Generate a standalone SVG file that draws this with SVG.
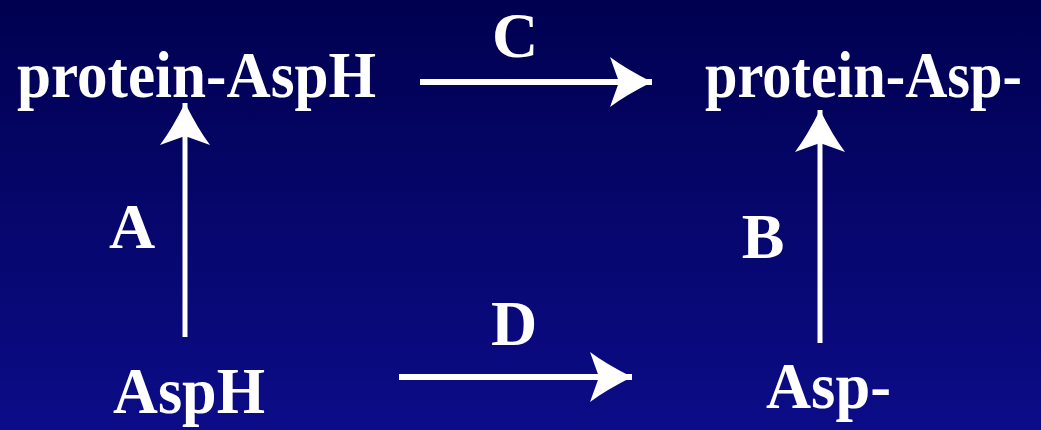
<svg xmlns="http://www.w3.org/2000/svg" width="1041" height="430" viewBox="0 0 1041 430">
  <defs>
    <linearGradient id="bg" x1="0" y1="0" x2="0" y2="1">
      <stop offset="0" stop-color="#000050"/>
      <stop offset="1" stop-color="#0c0c88"/>
    </linearGradient>
    <!-- stealth-style arrowhead, tip at refX -->
    <marker id="head" markerUnits="userSpaceOnUse" viewBox="0 -26 44 52" markerWidth="44" markerHeight="52" refX="42" refY="0" orient="auto">
      <path d="M0,-25 Q16,-13 42,0 Q16,13 0,25 L9,0 Z" fill="#ffffff"/>
    </marker>
    <style>
      .t { font-family: "Liberation Serif", "Times New Roman", serif; font-weight: bold; font-size: 66px; fill: #ffffff; }
      .lbl { text-anchor: middle; font-size: 64px; }
      .conn line { stroke: #ffffff; fill: none; marker-end: url(#head); }
    </style>
  </defs>

  <rect x="0" y="0" width="1041" height="430" fill="url(#bg)"/>

  <g id="node-protein-AspH">
    <text class="t" x="17" y="97" textLength="359" lengthAdjust="spacingAndGlyphs">protein-AspH</text>
  </g>
  <g id="node-protein-Asp">
    <text class="t" x="705" y="97" textLength="317" lengthAdjust="spacingAndGlyphs">protein-Asp-</text>
  </g>
  <g id="node-AspH">
    <text class="t" x="113" y="413" textLength="152" lengthAdjust="spacingAndGlyphs">AspH</text>
  </g>
  <g id="node-Asp">
    <text class="t" x="766" y="408" textLength="125" lengthAdjust="spacingAndGlyphs">Asp-</text>
  </g>

  <g id="connectors" class="conn">
    <line x1="420" y1="82" x2="652" y2="82" stroke-width="6"/>
    <line x1="399" y1="377" x2="632" y2="377" stroke-width="6"/>
    <line x1="185" y1="337" x2="185" y2="103" stroke-width="5"/>
    <line x1="820" y1="343" x2="820" y2="110" stroke-width="5"/>
  </g>

  <g id="edge-labels">
    <text class="t lbl" x="515" y="57">C</text>
    <text class="t lbl" x="514" y="345">D</text>
    <text class="t lbl" x="132" y="248">A</text>
    <text class="t lbl" x="763" y="258">B</text>
  </g>
</svg>
